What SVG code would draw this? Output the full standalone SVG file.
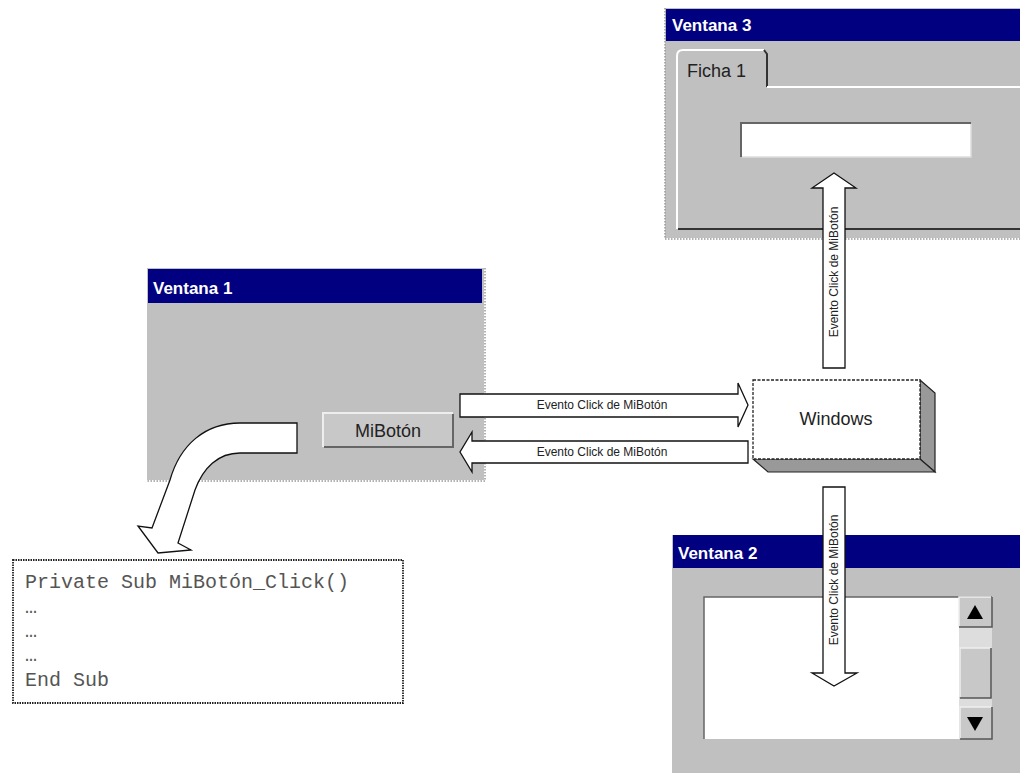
<svg xmlns="http://www.w3.org/2000/svg" width="1020" height="773" viewBox="0 0 1020 773">
<style>
.win{fill:#c0c0c0}
.bar{fill:#000080}
.ttl{font-family:"Liberation Sans",Arial,sans-serif;font-weight:bold;font-size:17px;fill:#fff}
.lbl{font-family:"Liberation Sans",Arial,sans-serif;font-size:12px;fill:#222}
.arr{fill:#fff;stroke:#111;stroke-width:1.3;stroke-linejoin:miter}
.dot{fill:none;stroke:#999;stroke-width:1.5;stroke-dasharray:1.5 1.5}
.code{font-family:"Liberation Mono","Courier New",monospace;font-size:20px;fill:#555}
</style>
<rect width="1020" height="773" fill="#fff"/>

<g id="ventana3">
<rect class="win" x="665" y="8" width="355" height="230"/>
<path class="dot" d="M665,8 V239 H1020"/>
<rect class="bar" x="666" y="9" width="354" height="32"/>
<text class="ttl" x="672" y="31">Ventana 3</text>
<path d="M677,229 V56 Q677,50 683,50 H764" fill="none" stroke="#fff" stroke-width="2"/>
<path d="M764,50 L767,54 V87" fill="none" stroke="#333" stroke-width="2"/>
<path d="M767,87 H1020" fill="none" stroke="#fff" stroke-width="2"/>
<path d="M678,229 H1020" fill="none" stroke="#333" stroke-width="2"/>
<text x="687" y="77" font-family="'Liberation Sans',Arial,sans-serif" font-size="18" fill="#222">Ficha 1</text>
<rect x="741" y="123" width="230" height="34" fill="#fff"/>
<path d="M741,157 V123 H971" fill="none" stroke="#666" stroke-width="2"/>
<path d="M742,157 H971 V124" fill="none" stroke="#ddd" stroke-width="1.5"/>
</g>

<g id="ventana1">
<rect class="win" x="147" y="268" width="337" height="212"/>
<path class="dot" d="M485,268 V481 H147"/>
<rect class="bar" x="148" y="269" width="334" height="34"/>
<text class="ttl" x="153" y="294">Ventana 1</text>
</g>

<g id="mibutton">
<rect x="323" y="413" width="130" height="34" fill="#c8c8c8"/>
<path d="M323,447 V413 H453" fill="none" stroke="#eee" stroke-width="2"/>
<path d="M324,447 H453 V414" fill="none" stroke="#666" stroke-width="2"/>
<text x="388" y="437" text-anchor="middle" font-family="'Liberation Sans',Arial,sans-serif" font-size="18" fill="#222">MiBotón</text>
</g>

<g id="windows">
<polygon points="920,380 935,393 935,472 920,459" fill="#999" stroke="#222" stroke-width="1.2"/>
<polygon points="753,459 920,459 935,472 768,472" fill="#999" stroke="#222" stroke-width="1.2"/>
<rect x="753" y="380" width="167" height="79" fill="#fff" stroke="#222" stroke-width="1.3" stroke-dasharray="3 1.5"/>
<text x="836" y="425" text-anchor="middle" font-family="'Liberation Sans',Arial,sans-serif" font-size="18" fill="#222">Windows</text>
</g>

<g id="ventana2">
<rect class="win" x="672" y="535" width="348" height="238"/>
<rect class="bar" x="673" y="535" width="347" height="33"/>
<text class="ttl" x="678" y="559">Ventana 2</text>
<rect x="704" y="597" width="288" height="142" fill="#fff"/>
<path d="M704,739 V597 H992" fill="none" stroke="#666" stroke-width="1.5"/>
<rect x="959" y="597" width="33" height="142" fill="#c8c8c8"/>
<rect x="959" y="627" width="33" height="21" fill="#ddd"/>
<rect x="959" y="698" width="33" height="9" fill="#ddd"/>
<path d="M959,627 V597 H991" fill="none" stroke="#eee" stroke-width="1.5"/>
<path d="M959,627 H992 V597" fill="none" stroke="#555" stroke-width="1.5"/>
<path d="M960,697 V648 H991" fill="none" stroke="#eee" stroke-width="1.5"/>
<path d="M960,698 H991 V648" fill="none" stroke="#555" stroke-width="1.5"/>
<path d="M960,739 V707 H991" fill="none" stroke="#eee" stroke-width="1.5"/>
<path d="M960,739 H992 V707" fill="none" stroke="#555" stroke-width="1.5"/>
<polygon points="975,605 967,619 983,619" fill="#000"/>
<polygon points="975,731 967,717 983,717" fill="#000"/>
</g>

<g id="code">
<rect x="13" y="560" width="390" height="143" fill="#fff" stroke="#222" stroke-width="1.8" stroke-dasharray="1.5 1"/>
<text class="code" x="25" y="588">Private Sub MiBotón_Click()</text>
<text class="code" x="25" y="613" font-size="11">…</text>
<text class="code" x="25" y="637" font-size="11">…</text>
<text class="code" x="25" y="661" font-size="11">…</text>
<text class="code" x="25" y="686">End Sub</text>
</g>

<g id="connectors">
<path class="arr" d="M297,423 L240,423 C205,423 180,445 170,480 L152,528 L138,526 L158,553 L191,550 L178,543 L195,490 C203,468 218,453 240,453 L297,453 Z"/>
<path class="arr" d="M460,394 H738 V383 L748,405 L738,427 V417 H460 Z"/>
<text class="lbl" x="602" y="409" text-anchor="middle">Evento Click de MiBotón</text>
<path class="arr" d="M748,441 H472 V432 L460,452 L472,472 V463 H748 Z"/>
<text class="lbl" x="602" y="456" text-anchor="middle">Evento Click de MiBotón</text>
<path class="arr" d="M823,368 V188 H812 L834,173 L856,188 H845 V368 Z"/>
<text class="lbl" transform="translate(838,272) rotate(-90)" text-anchor="middle">Evento Click de MiBotón</text>
<path class="arr" d="M823,487 V673 H812 L834,686 L857,673 H845 V487 Z"/>
<text class="lbl" transform="translate(838,580) rotate(-90)" text-anchor="middle">Evento Click de MiBotón</text>
</g>
</svg>
